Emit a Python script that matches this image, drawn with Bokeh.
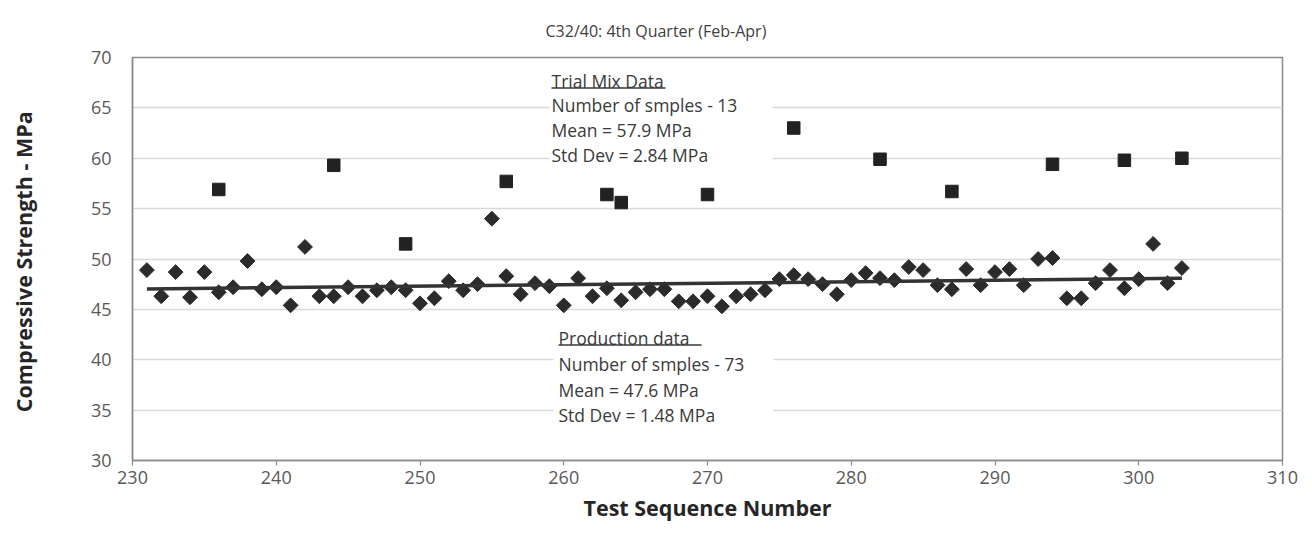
import numpy as np
from bokeh.plotting import figure
from bokeh.models import Range1d, FixedTicker, Label, BoxAnnotation, ColumnDataSource
from bokeh.embed import file_html
from bokeh.resources import INLINE

# ---------------- data ----------------
title_text = "C32/40: 4th Quarter (Feb-Apr)"
x_axis_label = "Test Sequence Number"
y_axis_label = "Compressive  Strength - MPa"
x_ticks = [230, 240, 250, 260, 270, 280, 290, 300, 310]
y_ticks = [30, 35, 40, 45, 50, 55, 60, 65, 70]

production_test_no = [231, 232, 233, 234, 235, 236, 237, 238, 239, 240,
                      241, 242, 243, 244, 245, 246, 247, 248, 249, 250,
                      251, 252, 253, 254, 255, 256, 257, 258, 259, 260,
                      261, 262, 263, 264, 265, 266, 267, 268, 269, 270,
                      271, 272, 273, 274, 275, 276, 277, 278, 279, 280,
                      281, 282, 283, 284, 285, 286, 287, 288, 289, 290,
                      291, 292, 293, 294, 295, 296, 297, 298, 299, 300,
                      301, 302, 303]
production_strength = [48.9, 46.3, 48.7, 46.2, 48.7, 46.7, 47.2, 49.8, 47.0, 47.2,
                       45.4, 51.2, 46.3, 46.3, 47.2, 46.3, 46.9, 47.2, 46.9, 45.6,
                       46.1, 47.8, 46.9, 47.5, 54.0, 48.3, 46.5, 47.6, 47.3, 45.4,
                       48.1, 46.3, 47.1, 45.9, 46.7, 47.0, 47.0, 45.8, 45.8, 46.3,
                       45.3, 46.3, 46.5, 46.9, 48.0, 48.4, 48.0, 47.5, 46.5, 47.9,
                       48.6, 48.1, 47.9, 49.2, 48.9, 47.4, 47.0, 49.0, 47.4, 48.7,
                       49.0, 47.4, 50.0, 50.1, 46.1, 46.1, 47.6, 48.9, 47.1, 48.0,
                       51.5, 47.6, 49.1]

trial_test_no = [236, 244, 249, 256, 263, 264, 270, 276, 282, 287, 294, 299, 303]
trial_strength = [56.9, 59.3, 51.5, 57.7, 56.4, 55.6, 56.4, 63.0, 59.9, 56.7, 59.4, 59.8, 60.0]

trial_notes = ["Trial Mix Data", "Number of smples - 13", "Mean = 57.9 MPa", "Std Dev = 2.84 MPa"]
production_notes = ["Production data", "Number of smples - 73", "Mean = 47.6 MPa", "Std Dev = 1.48 MPa"]

# ---------------- layout helpers ----------------
FONT = "Open Sans"
W, H = 1304, 530
ML, MT = 132, 57
FW, FH = 1150, 403
MR = W - ML - FW
MB = H - MT - FH
X0, X1 = 230, 310
Y0, Y1 = 30, 70


def px_x(px):  # picture pixel -> data x
    return X0 + (px - ML) * (X1 - X0) / FW


def px_y(py):  # picture pixel -> data y
    return Y1 - (py - MT) * (Y1 - Y0) / FH


p = figure(width=W, height=H, output_backend="svg", toolbar_location=None,
           x_range=Range1d(X0, X1), y_range=Range1d(Y0, Y1),
           min_border_left=ML, min_border_right=MR,
           min_border_top=MT, min_border_bottom=MB,
           background_fill_color="white", border_fill_color="white")

p.title.text = title_text
p.title.text_font = FONT
p.title.text_font_size = "16px"
p.title.text_font_style = "normal"
p.title.text_color = "#404040"
p.title.align = "left"
p.title.offset = 413
p.title.standoff = 32

p.outline_line_color = "#8c8c8c"
p.outline_line_width = 1.5
p.xgrid.visible = False
p.ygrid.grid_line_color = "#d9d9d9"
p.ygrid.grid_line_width = 1.4
p.ygrid.ticker = FixedTicker(ticks=y_ticks)

p.xaxis.ticker = FixedTicker(ticks=x_ticks)
p.yaxis.ticker = FixedTicker(ticks=y_ticks)
for ax in (p.xaxis[0], p.yaxis[0]):
    ax.axis_line_color = "#8c8c8c"
    ax.axis_line_width = 1.5
    ax.major_tick_line_color = "#8c8c8c"
    ax.major_tick_line_width = 1.2
    ax.minor_tick_line_color = None
    ax.major_label_text_font = FONT
    ax.major_label_text_font_size = "18px"
    ax.major_label_text_color = "#595959"
    ax.axis_label_text_font = FONT
    ax.axis_label_text_font_size = "21.5px"
    ax.axis_label_text_font_style = "bold"
    ax.axis_label_text_color = "#262626"

p.xaxis.axis_label = x_axis_label
p.yaxis.axis_label = y_axis_label
p.xaxis.major_tick_in = 0
p.xaxis.major_tick_out = 5
p.xaxis.major_label_standoff = 5
p.xaxis.axis_label_standoff = 6
p.yaxis.major_tick_in = 0
p.yaxis.major_tick_out = 0
p.yaxis.major_label_standoff = 21
p.yaxis.axis_label_standoff = 50

# white boxes behind the text blocks (hide gridlines)
for l, r, t, b in [(549, 772, 64, 172), (553, 773, 325, 428)]:
    p.add_layout(BoxAnnotation(left=px_x(l), right=px_x(r), top=px_y(t), bottom=px_y(b),
                               fill_color="white", fill_alpha=1.0, line_color=None,
                               level="underlay"))

# production data diamonds
prod_src = ColumnDataSource(dict(x=production_test_no, y=production_strength))
p.scatter("x", "y", source=prod_src, marker="square", angle=np.pi / 4, size=10.5,
          fill_color="#2b2b2b", line_color="#2b2b2b")

# trend line (least squares fit of production data)
slope, intercept = np.polyfit(production_test_no, production_strength, 1)
tx = [min(production_test_no), max(production_test_no)]
ty = [slope * v + intercept for v in tx]
p.line(tx, ty, line_color="#333333", line_width=3.5)

# trial mix squares
trial_src = ColumnDataSource(dict(x=trial_test_no, y=trial_strength))
p.scatter("x", "y", source=trial_src, marker="square", size=12.5,
          fill_color="#222222", line_color="#222222")


# annotation text blocks
def text_block(lines, left_px, ys_px, underline_right_px):
    for txt, ypx in zip(lines, ys_px):
        p.add_layout(Label(x=px_x(left_px), y=px_y(ypx), text=txt, text_font=FONT,
                           text_font_size="17.5px", text_color="#3a3a3a",
                           text_align="left", text_baseline="middle"))
    uy = ys_px[0] + 7.5
    p.add_layout(BoxAnnotation(left=px_x(left_px), right=px_x(underline_right_px),
                               top=px_y(uy - 0.7), bottom=px_y(uy + 0.7),
                               fill_color="#3a3a3a", fill_alpha=1.0, line_color=None))


text_block(trial_notes, 551, [80, 104, 129, 154], 665)
text_block(production_notes, 558, [337, 363, 389, 414], 701)

open("out.html", "w").write(file_html(p, INLINE))
